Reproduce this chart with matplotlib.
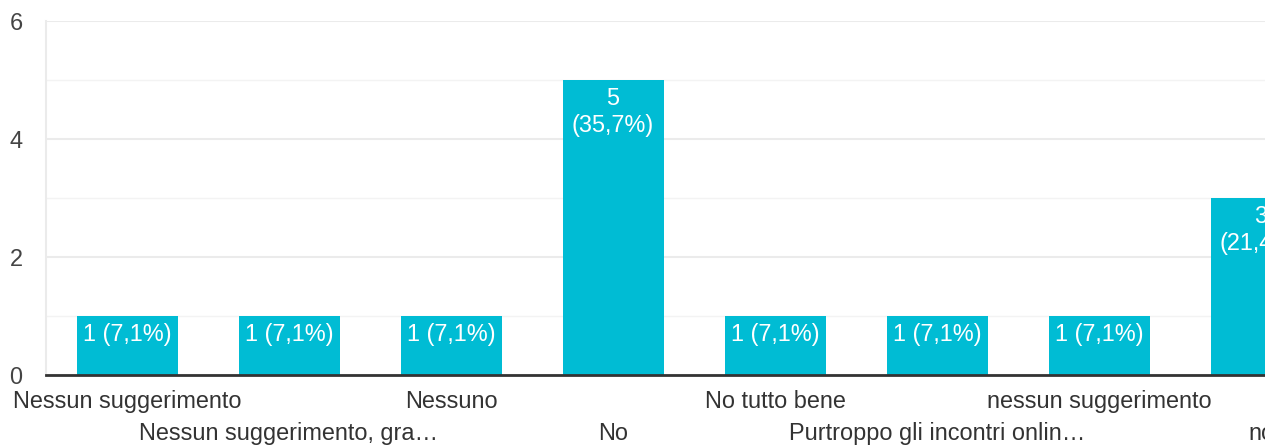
import matplotlib
matplotlib.use("Agg")
import matplotlib.pyplot as plt

categories = [
    "Nessun suggerimento",
    "Nessun suggerimento, gra…",
    "Nessuno",
    "No",
    "No tutto bene",
    "Purtroppo gli incontri onlin…",
    "nessun suggerimento",
    "no",
]
counts = [1, 1, 1, 5, 1, 1, 1, 3]
percents = ["7,1%", "7,1%", "7,1%", "35,7%", "7,1%", "7,1%", "7,1%", "21,4%"]
yticks = [0, 2, 4, 6]

plt.rcParams["font.family"] = ["Liberation Sans", "DejaVu Sans"]
FS = 16.9
BAR = "#00BCD4"
TXT = "#333333"

fig = plt.figure(figsize=(12.65, 4.46), dpi=100)
ax = fig.add_axes([46 / 1265, 71 / 446, 1296 / 1265, 354 / 446])

x = list(range(len(categories)))
bars = ax.bar(x, counts, width=101 / 162, color=BAR, zorder=3)

for xi, c, p in zip(x, counts, percents):
    label = f"{c} ({p})" if c < 2 else f"{c}\n({p})"
    ax.annotate(label, (xi, c), xytext=(0, -5), textcoords="offset points",
                ha="center", va="top", color="white", fontsize=FS,
                linespacing=1.25, zorder=4)

ax.set_xlim(-0.5, len(categories) - 0.5)
ax.set_ylim(0, 6)
ax.set_yticks(yticks)
ax.set_yticklabels([str(v) for v in yticks], fontsize=FS, color="#444444")
ax.set_yticks([1, 3, 5], minor=True)
ax.grid(axis="y", which="major", color="#ebebeb", linewidth=1.5, zorder=0)
ax.grid(axis="y", which="minor", color="#f3f3f3", linewidth=1.0, zorder=0)

even = [i for i in x if i % 2 == 0]
odd = [i for i in x if i % 2 == 1]
ax.set_xticks(even)
ax.set_xticklabels([categories[i] for i in even], fontsize=FS, color=TXT)
ax.set_xticks(odd, minor=True)
ax.set_xticklabels([categories[i] for i in odd], minor=True, fontsize=FS, color=TXT)
ax.tick_params(axis="x", which="major", length=0, pad=11)
ax.tick_params(axis="x", which="minor", length=0, pad=34)
ax.tick_params(axis="y", which="both", length=0, pad=17)

for s in ["top", "right"]:
    ax.spines[s].set_visible(False)
ax.spines["left"].set_color("#ebebeb")
ax.spines["left"].set_linewidth(1.5)
ax.spines["bottom"].set_color("#333333")
ax.spines["bottom"].set_linewidth(2)
ax.spines["bottom"].set_zorder(5)

fig.savefig("out.png", dpi=100)
